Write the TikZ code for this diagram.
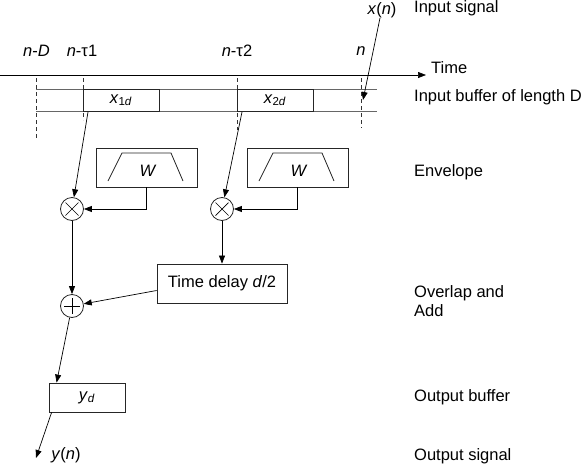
\documentclass[tikz,border=0pt]{standalone}
\usepackage{fontspec}
\setmainfont{Liberation Sans}
\usetikzlibrary{arrows.meta,calc}
\begin{document}
\begin{tikzpicture}[x=1pt,y=-1pt,
  every node/.style={font=\fontsize{16.5}{19.5}\selectfont},
  blk/.style={draw=black!85, line width=0.8pt, inner sep=0pt},
  circ/.style={draw=black!85, line width=0.8pt, circle, minimum size=23pt, inner sep=0pt},
  conn/.style={line width=0.7pt, -{Triangle[length=8pt,width=6pt]}},
  dsh/.style={line width=0.7pt, dash pattern=on 4pt off 3pt, black!80},
  lbl/.style={anchor=west, inner sep=0pt, align=left}]
\useasboundingbox (0,0) rectangle (584,466);
% time axis
\node[anchor=west, inner sep=0pt] (time) at (431,68) {Time};
\coordinate (t0) at (0,75);
\coordinate (t1) at ($(time.west |- t0)+(-5,0)$);
\draw[conn] (t0) -- (t1);
% labels above axis
\node (lD) at (36.5,51) {\textit{n}-\textit{D}};
\node (l1) at (82,51) {\textit{n}-τ1};
\node (l2) at (237,51) {\textit{n}-τ2};
\node (ln) at (361,51) {\textit{n}};
% dashed
\draw[dsh] (36,78) -- (36,138);
\draw[dsh] (83,78) -- (83,120);
\draw[dsh] (237,78) -- (237,130);
\draw[dsh] (361,78) -- (361,128);
% buffer lines
\draw[line width=0.8pt, black!60] (36,89) -- (377,89);
\draw[line width=0.8pt, black!60] (36,111) -- (377,111);
% buffer segments
\node[blk, minimum width=76pt, minimum height=22pt] (x1d) at (121,100) {\textit{x}\textsubscript{1\textit{d}}};
\node[blk, minimum width=76pt, minimum height=22pt] (x2d) at (275,100) {\textit{x}\textsubscript{2\textit{d}}};
% input signal
\node (xn) at (382,10) {\textit{x}(\textit{n})};
\coordinate (xin) at (363,100);
\draw[conn] (380,18) -- (xin);
% envelopes
\node[blk, minimum width=101pt, minimum height=39pt] (e1) at (146.5,167.5) {};
\node[blk, minimum width=101pt, minimum height=39pt] (e2) at (297.5,167.5) {};
\foreach \e in {e1,e2}{
  \draw[line width=0.8pt, black!85] ($(\e.center)+(-38.5,13.5)$) -- ($(\e.center)+(-24.5,-14.5)$) -- ($(\e.center)+(24.5,-14.5)$) -- ($(\e.center)+(36.5,13.5)$);
  \node at ($(\e.center)+(1.5,3.5)$) {\textit{W}};
}
% multipliers
\node[circ] (m1) at (72,209) {};
\node[circ] (m2) at (222,209) {};
\foreach \m in {m1,m2}{
  \draw[line width=0.7pt] ($(\m.center)+(-6.5,-6.5)$) -- ($(\m.center)+(6.5,6.5)$);
  \draw[line width=0.7pt] ($(\m.center)+(-6.5,6.5)$) -- ($(\m.center)+(6.5,-6.5)$);
}
\coordinate (s1) at (88,112);
\coordinate (s2) at (242,112);
\draw[conn] (s1) -- (m1);
\draw[conn] (s2) -- (m2);
\draw[conn] (e1.south) |- (m1.east);
\draw[conn] (e2.south) |- (m2.east);
% time delay
\node[blk, minimum width=130pt, minimum height=39pt] (dl) at (222,283.5) {Time delay \textit{d}/2};
\draw[conn] (m2) -- (dl.north);
% adder
\node[circ] (ad) at (72,306) {};
\draw[line width=0.7pt] ($(ad.center)+(-8,0)$) -- ($(ad.center)+(8,0)$);
\draw[line width=0.7pt] ($(ad.center)+(0,-8)$) -- ($(ad.center)+(0,8)$);
\draw[conn] (m1) -- (ad);
\draw[conn] ($(dl.west)+(0,7)$) -- (ad);
% output buffer
\node[blk, minimum width=76pt, minimum height=29pt] (yd) at (87,397.5) {\textit{y}\textsubscript{\textit{d}}};
\draw[conn] (ad) -- ($(yd.north west)+(8,0)$);
\node (yn) at (66,455) {\textit{y}(\textit{n})};
\coordinate (yend) at (36,458);
\draw[conn] ($(yd.south west)+(3,0)$) -- (yend);
% right labels
\node[lbl] (r1) at (414,8) {Input signal};
\node[lbl] (r2) at (414,97) {Input buffer of length D};
\node[lbl] (r3) at (414,172) {Envelope};
\node[lbl] (r4) at (414,301) {Overlap and\\Add};
\node[lbl] (r5) at (414,397) {Output buffer};
\node[lbl] (r6) at (414,456) {Output signal};
\end{tikzpicture}
\end{document}
